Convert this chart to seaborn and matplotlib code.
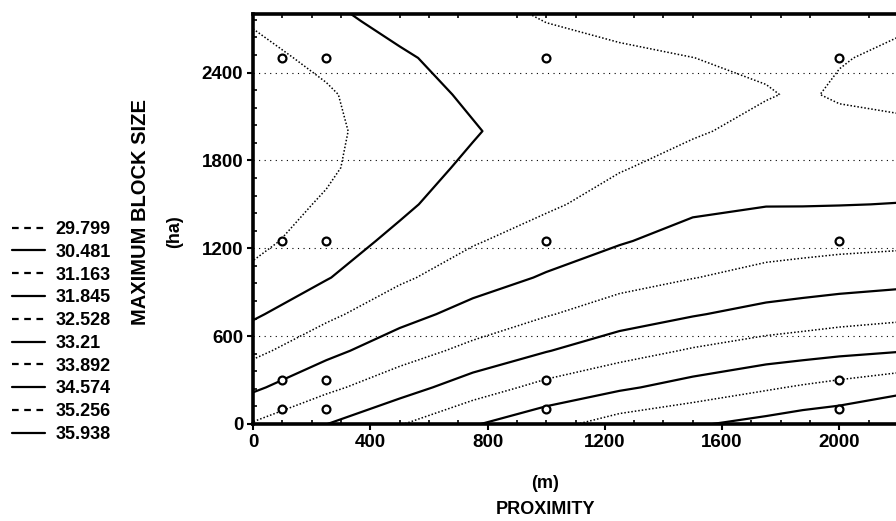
import numpy as np
import pandas as pd
import matplotlib
matplotlib.use("Agg")
import matplotlib.pyplot as plt
from matplotlib.lines import Line2D
import seaborn as sns

# contour levels shown in the legend
levels = [29.799, 30.481, 31.163, 31.845, 32.528, 33.21, 33.892, 34.574, 35.256, 35.938]

# grid the surface was read on (proximity in m, block size in ha)
prox_grid = [0, 250, 500, 750, 1000, 1250, 1500, 1750, 1875, 2000, 2250]
size_grid = [0, 250, 500, 750, 1000, 1250, 1500, 1750, 2000, 2250, 2500, 2750, 3000]

# surface values, one list per proximity column (bottom -> top)
col_0 = [32.58, 31.73, 30.99, 30.38, 29.97, 29.60, 29.50, 29.35, 29.30, 29.40, 29.60, 29.85, 30.30]
col_250 = [33.20, 32.38, 31.66, 31.01, 30.44, 30.15, 29.87, 29.70, 29.65, 29.72, 29.96, 30.28, 30.58]
col_500 = [33.85, 32.93, 32.23, 31.61, 31.05, 30.64, 30.35, 30.20, 30.15, 30.20, 30.38, 30.70, 31.10]
col_750 = [34.52, 33.55, 32.71, 32.08, 31.54, 31.10, 30.85, 30.60, 30.43, 30.59, 30.78, 30.97, 31.16]
col_1000 = [35.02, 34.10, 33.18, 32.48, 31.91, 31.48, 31.06, 30.93, 30.82, 30.86, 30.98, 31.17, 31.40]
col_1250 = [35.57, 34.47, 33.62, 32.86, 32.27, 31.79, 31.43, 31.12, 31.02, 31.02, 31.10, 31.25, 31.45]
col_1500 = [35.86, 34.83, 33.96, 33.16, 32.51, 32.09, 31.71, 31.39, 31.10, 31.08, 31.16, 31.35, 31.55]
col_1750 = [36.15, 35.17, 34.22, 33.43, 32.74, 32.23, 31.82, 31.57, 31.33, 31.13, 31.25, 31.40, 31.60]
col_1875 = [36.31, 35.33, 34.31, 33.52, 32.82, 32.27, 31.82, 31.60, 31.40, 31.22, 31.26, 31.42, 31.60]
col_2000 = [36.40, 35.48, 34.41, 33.61, 32.89, 32.32, 31.83, 31.60, 31.35, 31.10, 31.19, 31.38, 31.58]
col_2250 = [36.70, 35.81, 34.57, 33.74, 33.00, 32.38, 31.865, 31.57, 31.28, 31.00, 31.05, 31.20, 31.45]

# sampled design points
sample_prox = [100, 250, 1000, 2000]
sample_size = [100, 300, 1250, 2500]

x_ticks = [0, 400, 800, 1200, 1600, 2000]
y_ticks = [0, 600, 1200, 1800, 2400]

Z = np.array([col_0, col_250, col_500, col_750, col_1000, col_1250, col_1500,
              col_1750, col_1875, col_2000, col_2250]).T

pp, ss = np.meshgrid(sample_prox, sample_size)
pts = pd.DataFrame({"prox": pp.ravel(), "size": ss.ravel()})

sns.set_theme(style="white")
plt.rcParams["font.family"] = ["Liberation Sans", "DejaVu Sans"]
plt.rcParams["font.weight"] = "bold"
plt.rcParams["text.color"] = "black"
plt.rcParams["xtick.color"] = "black"
plt.rcParams["ytick.color"] = "black"

fig = plt.figure(figsize=(8.96, 5.21), dpi=100)
ax = fig.add_axes([253 / 896, 97 / 521, 645 / 896, 410 / 521])

dot = (0, (1, 1.3))
styles = [dot if i % 2 == 0 else "solid" for i in range(len(levels))]
widths = [1.1 if i % 2 == 0 else 1.6 for i in range(len(levels))]
ax.contour(prox_grid, size_grid, Z, levels=levels, colors="black",
           linestyles=styles, linewidths=widths)

sns.scatterplot(data=pts, x="prox", y="size", ax=ax, marker="o", s=32,
                facecolor="white", edgecolor="black", linewidth=1.6, zorder=5)

ax.set_xlim(0, 2200)
ax.set_ylim(0, 2800)
ax.set_xticks(x_ticks)
ax.set_yticks(y_ticks)
ax.set_xlabel("")
ax.set_ylabel("")
ax.grid(axis="y", color="black", linestyle=(0, (1, 4)), linewidth=0.8)
ax.grid(axis="x", visible=False)
for s in ax.spines.values():
    s.set_color("black")
    s.set_linewidth(2.6)
ax.tick_params(axis="both", which="major", labelsize=13.5, length=4, width=1.5,
               color="black", labelcolor="black", direction="out",
               left=True, bottom=True, pad=3)
ax.set_xticks(range(0, 2201, 100), minor=True)
ax.set_yticks(range(0, 2801, 120), minor=True)
ax.tick_params(which="minor", direction="in", length=3, width=1.2, color="black",
               left=True, bottom=True, top=True)
for lab in ax.get_xticklabels() + ax.get_yticklabels():
    lab.set_fontweight("bold")

fig.text(140 / 896, 1 - 212 / 521, "MAXIMUM BLOCK SIZE", rotation=90,
         ha="center", va="center", fontsize=14.5, fontweight="bold")
fig.text(175 / 896, 1 - 232 / 521, "(ha)", rotation=90,
         ha="center", va="center", fontsize=13, fontweight="bold")
fig.text(545 / 896, 1 - 483 / 521, "(m)", ha="center", va="center",
         fontsize=13, fontweight="bold")
fig.text(545 / 896, 1 - 510 / 521, "PROXIMITY", ha="center", va="center",
         fontsize=13, fontweight="bold")

handles = [Line2D([], [], color="black", linewidth=1.6,
                  linestyle=(0, (3, 2.5)) if i % 2 == 0 else "solid")
           for i in range(len(levels))]
fig.legend(handles, [f"{v:g}" for v in levels], loc="upper left",
           bbox_to_anchor=(12 / 896, 1 - 221 / 521), frameon=False,
           borderpad=0, borderaxespad=0, handlelength=1.8, handletextpad=0.6,
           labelspacing=0.32, prop={"size": 13, "weight": "bold"})

fig.savefig("out.png", dpi=100)
